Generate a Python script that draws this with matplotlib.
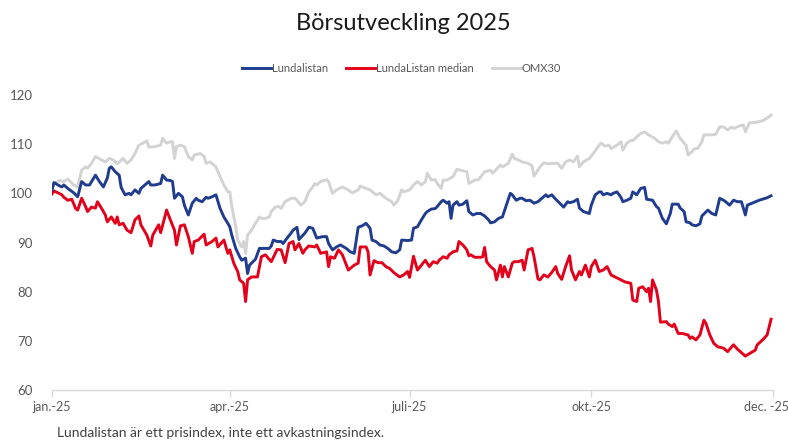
import numpy as np
import matplotlib
matplotlib.use("Agg")
import matplotlib.pyplot as plt
from matplotlib.transforms import ScaledTranslation

plt.rcParams['font.family'] = ['Lato', 'DejaVu Sans']

title = "Börsutveckling 2025"
footnote = "Lundalistan är ett prisindex, inte ett avkastningsindex."
series_names = ["Lundalistan", "LundaListan median", "OMX30"]
tick_dates = ['2025-01-01', '2025-04-01', '2025-07-01', '2025-10-01', '2026-01-01']
tick_labels = ['jan.-25', 'apr.-25', 'juli-25', 'okt.-25', 'dec. -25']
y_ticks = [60, 70, 80, 90, 100, 110, 120]

# day offsets from 2025-01-01 and index values
lunda_days = [0,1,3,5,6,8,11,13,15,17,19,22,24,26,28,29,30,32,34,35,37,39,40,42,44,45,47,49,50,52,55,56,58,60,
              61,62,64,66,67,69,71,73,74,76,78,79,81,83,85,87,89,90,91,93,95,96,98,99,100,101,103,105,107,110,
              111,112,114,116,117,119,121,122,124,125,128,130,132,133,134,137,139,140,142,144,146,149,151,153,
              155,157,159,161,162,164,166,168,170,172,174,176,177,180,182,183,185,187,189,190,192,194,195,197,
              198,200,201,202,203,205,206,208,210,211,213,215,217,219,221,222,224,226,228,230,232,233,235,237,
              238,240,242,244,246,248,250,251,253,255,257,259,261,262,264,266,267,269,272,273,275,277,278,279,
              281,283,284,286,288,289,291,293,294,296,298,300,301,304,306,307,309,311,313,314,317,318,320,321,
              323,324,326,328,329,332,334,336,338,340,341,343,345,347,349,351,352,355,358,362,364]
lunda_vals = [100.7,102.2,101.7,101.3,101.7,101.0,100.1,99.3,102.4,101.7,101.7,103.7,102.4,101.3,103.1,105.1,
              105.4,104.4,103.7,101.2,99.7,100.0,99.7,100.7,100.0,101.0,101.7,102.4,101.7,101.7,102.0,103.7,
              102.7,102.6,102.4,99.0,100.0,99.3,97.6,95.6,98.0,99.0,98.6,98.3,99.2,99.0,99.3,99.7,97.0,95.2,
              93.9,93.2,91.5,88.8,87.1,86.4,86.8,83.7,85.4,85.8,86.6,88.8,88.8,88.8,89.3,90.5,90.2,90.2,89.8,
              90.9,91.9,92.5,93.1,90.6,91.9,93.1,92.9,91.9,90.9,91.2,91.2,89.8,88.5,89.1,89.5,88.8,88.1,87.8,
              93.1,93.4,93.9,92.9,90.5,90.2,89.5,89.3,88.8,88.1,87.9,88.5,90.5,90.4,90.5,92.9,93.2,94.6,95.9,
              96.3,96.8,96.9,97.3,98.3,98.6,98.0,98.3,94.9,97.6,98.3,97.6,97.8,98.5,96.3,95.6,95.9,95.9,95.4,
              94.6,94.0,94.2,94.9,95.2,97.6,100.0,99.7,98.6,99.0,99.0,98.5,98.6,98.0,98.3,99.0,99.7,99.3,99.7,
              98.8,98.0,97.2,98.3,98.1,98.3,98.8,97.0,96.3,95.9,97.6,99.7,100.3,100.3,99.7,100.0,99.7,100.0,
              100.3,99.2,98.3,98.6,99.0,100.3,99.7,101.0,101.2,98.8,98.6,97.3,97.0,94.9,93.8,95.9,97.8,97.8,
              97.0,96.3,94.2,94.0,93.6,93.4,93.8,95.4,96.6,95.9,95.6,99.0,98.6,98.3,97.6,98.6,98.3,98.3,95.6,
              97.6,98.1,98.6,99.1,99.5]

median_days = [0,1,3,5,6,8,10,12,13,15,17,18,20,22,23,25,27,28,30,32,33,34,36,38,40,42,44,45,48,50,51,54,55,58,
               60,62,63,65,67,69,71,72,74,77,78,81,83,84,87,89,90,92,94,95,97,98,99,101,104,106,108,111,114,116,
               118,120,122,123,125,127,128,130,133,134,136,139,140,141,143,145,147,149,150,153,155,156,159,160,
               161,163,165,167,169,171,173,176,178,180,181,183,185,187,189,191,193,195,196,198,200,201,203,205,
               206,208,210,211,212,214,217,218,219,220,222,224,225,227,228,229,231,233,234,236,238,239,241,243,
               244,246,247,249,251,253,255,256,258,260,262,263,265,267,268,270,272,273,275,277,279,281,283,285,
               288,290,293,294,296,297,299,301,302,303,304,306,307,308,311,312,314,315,317,319,322,323,324,326,
               328,330,331,333,335,337,340,342,345,347,351,353,356,357,360,362,364]
median_vals = [99.9,100.5,100.1,99.7,99.2,98.6,98.8,96.9,96.6,99.0,97.3,96.3,97.2,97.0,98.3,97.0,95.6,94.2,95.2,
               93.9,95.2,93.6,93.9,92.5,92.0,94.6,95.4,93.6,91.5,89.3,91.5,93.6,92.0,96.6,94.5,92.5,89.5,93.4,
               93.6,91.2,87.8,90.2,90.5,91.7,89.5,90.2,90.9,89.1,90.5,87.8,88.5,85.8,84.1,82.4,81.7,78.0,82.4,
               83.0,83.0,87.1,87.5,86.1,88.6,88.5,85.9,89.8,90.2,88.5,89.8,87.8,88.5,89.3,89.1,89.5,87.8,88.1,
               85.1,87.1,86.8,88.5,87.5,85.4,84.4,85.4,85.8,89.1,89.1,88.1,83.4,86.3,85.9,85.9,85.1,84.7,83.9,
               83.0,83.4,84.1,82.9,87.2,84.4,85.4,86.4,85.1,86.1,85.8,86.4,87.1,86.8,87.5,88.1,88.3,90.2,89.5,
               88.5,87.3,87.5,87.0,87.0,87.1,89.0,86.1,85.1,84.4,82.4,85.4,83.0,85.1,83.0,85.8,86.1,86.1,86.4,
               84.4,88.5,88.8,87.1,82.6,82.4,83.4,83.0,83.9,85.1,83.7,82.5,85.1,87.3,84.4,82.4,84.1,83.4,85.4,
               83.0,85.1,86.4,84.1,84.4,85.1,83.4,83.0,82.4,82.0,81.7,78.3,78.0,80.7,81.0,80.0,80.7,78.0,82.4,
               80.3,78.0,73.8,73.9,73.4,72.9,73.4,71.5,71.5,71.2,70.5,70.8,70.2,71.2,74.2,73.6,71.2,69.5,68.8,
               68.5,67.8,69.2,68.3,66.9,67.4,68.1,69.2,70.3,71.2,74.4]

omx_days = [0,1,4,6,8,11,13,15,17,18,20,22,25,27,29,31,33,36,38,40,42,44,46,48,49,52,55,56,58,60,61,62,63,65,67,
            69,71,72,75,77,78,80,83,84,87,89,90,91,93,94,96,97,98,99,101,103,105,106,108,110,111,113,115,116,
            118,121,123,124,126,128,130,132,133,134,136,139,140,142,144,147,150,152,155,156,159,161,164,166,169,
            172,173,175,177,178,181,183,185,187,189,190,192,194,195,197,198,200,203,205,207,210,211,214,216,219,
            222,223,225,227,228,231,233,234,236,238,241,243,244,245,247,249,251,253,256,258,260,262,264,266,267,
            269,272,274,277,278,280,282,283,286,288,289,291,293,294,296,298,300,302,305,307,309,311,312,314,316,
            317,318,320,321,322,324,325,327,329,330,334,336,338,340,342,344,345,348,350,351,353,357,360,362,364]
omx_vals = [101.2,102.0,102.6,102.4,102.9,101.7,101.3,104.7,105.4,105.1,106.1,107.5,106.8,106.4,107.1,106.8,
            106.0,107.1,106.1,106.8,108.1,109.8,110.2,110.7,109.4,109.5,109.8,111.2,110.2,110.5,110.5,107.1,
            109.5,109.8,109.5,107.5,106.8,107.8,108.1,107.5,106.1,106.4,105.4,104.4,101.7,100.3,100.3,97.3,93.2,
            90.5,89.1,90.2,87.8,91.5,92.5,93.9,95.2,94.9,94.9,95.2,96.3,97.2,97.3,96.9,98.3,99.0,99.0,98.6,97.6,
            98.3,100.3,101.3,102.0,101.7,102.4,102.8,102.4,100.0,100.7,101.3,100.7,100.1,100.7,101.5,101.0,
            100.7,99.7,100.0,99.0,98.3,97.6,98.5,100.7,100.3,100.7,101.7,102.4,101.7,102.4,104.1,102.7,102.8,
            102.0,101.0,102.7,102.7,103.4,104.9,104.7,104.4,102.0,102.7,102.8,104.4,104.7,104.1,104.9,105.8,
            105.4,106.1,108.0,107.1,106.8,106.4,106.1,105.6,103.5,104.1,105.4,106.2,106.0,106.1,106.1,105.1,
            106.4,106.8,106.4,107.6,105.4,106.4,107.1,108.1,109.8,110.2,109.6,109.8,109.1,109.8,110.5,108.8,
            110.2,110.8,110.7,111.5,112.2,112.5,111.9,111.2,110.5,110.2,110.5,110.2,111.5,112.7,111.9,111.2,
            110.2,109.8,107.8,108.5,109.0,109.2,110.5,111.9,111.9,112.0,113.5,113.5,112.9,113.5,113.2,113.7,
            113.9,112.5,114.3,114.5,114.8,115.3,115.9]

colors = ['#203C8E', '#E3001B', '#D3D3D3']

base = np.datetime64('2025-01-01')
def to_dates(days):
    return base + np.array(days).astype('timedelta64[D]')

fig = plt.figure(figsize=(7.88, 4.44), dpi=100)
ax = fig.add_axes([0.066, 0.1216, 0.915, 0.6644])

ax.plot(to_dates(omx_days), omx_vals, color=colors[2], lw=2.1, label=series_names[2], zorder=1)
ax.plot(to_dates(median_days), median_vals, color=colors[1], lw=2.1, label=series_names[1], zorder=2)
ax.plot(to_dates(lunda_days), lunda_vals, color=colors[0], lw=2.1, label=series_names[0], zorder=3)

ax.set_ylim(60, 120)
ax.set_yticks(y_ticks)
ax.set_xlim(np.datetime64(tick_dates[0]), np.datetime64(tick_dates[-1]))
ax.set_xticks([np.datetime64(d) for d in tick_dates])
ax.set_xticklabels(tick_labels)

for s in ['top', 'right', 'left']:
    ax.spines[s].set_visible(False)
ax.spines['bottom'].set_color('#D9D9D9')
ax.spines['bottom'].set_linewidth(1.0)
ax.tick_params(axis='x', colors='#D9D9D9', length=5, width=1.0, labelcolor='#595959', labelsize=9, pad=3)
ax.tick_params(axis='y', length=0, labelcolor='#595959', labelsize=9.5, pad=14)

# keep the last x label inside the canvas
last = ax.get_xticklabels()[-1]
last.set_transform(last.get_transform() + ScaledTranslation(-5 / 72, 0, fig.dpi_scale_trans))

handles, labels = ax.get_legend_handles_labels()
order = [2, 1, 0]
fig.legend([handles[i] for i in order], [labels[i] for i in order], loc='center',
           bbox_to_anchor=(0.51, 0.845), ncol=3, frameon=False, fontsize=8,
           handlelength=2.6, handletextpad=0.1, columnspacing=1.6, labelcolor='#595959')

fig.text(0.512, 0.948, title, ha='center', va='center', fontsize=17, color='#1A1A1A')
fig.text(0.072, 0.025, footnote, ha='left', va='center', fontsize=10, color='#404040')

fig.savefig('out.png', dpi=100)
